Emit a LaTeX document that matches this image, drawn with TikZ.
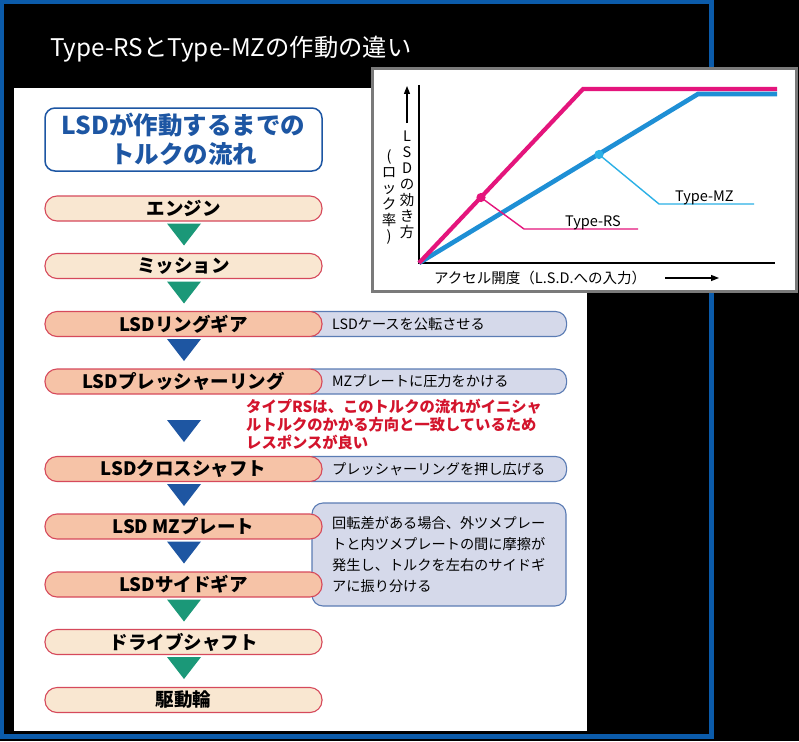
\documentclass[tikz,border=0pt]{standalone}
\usepackage{fontspec}
\setmainfont{Noto Sans CJK JP}
\usetikzlibrary{arrows.meta}
\definecolor{frameblue}{HTML}{0B5BAA}
\definecolor{hdrblue}{HTML}{1D56A3}
\definecolor{beige}{HTML}{F9E7D1}
\definecolor{salmon}{HTML}{F6C3A7}
\definecolor{boxred}{HTML}{D6495B}
\definecolor{lav}{HTML}{D5D9EA}
\definecolor{sideblue}{HTML}{5B7CB4}
\definecolor{trigreen}{HTML}{1B9878}
\definecolor{triblue}{HTML}{1E56A2}
\definecolor{redtext}{HTML}{D3142C}
\definecolor{gpink}{HTML}{E4157C}
\definecolor{gblue}{HTML}{1E8FD5}
\definecolor{glight}{HTML}{2BB0E6}
\definecolor{gborder}{HTML}{7A7A7A}
\tikzset{
  mainbox/.style={draw=boxred, line width=1.1, rounded corners=12, minimum width=277, minimum height=25, inner sep=0,
    font=\fontsize{18.5}{20}\selectfont\bfseries, text=black},
  beigebox/.style={mainbox, fill=beige},
  salmonbox/.style={mainbox, fill=salmon},
  sidebox/.style={draw=sideblue, fill=lav, line width=1.1, rounded corners=11, minimum width=266, minimum height=25, inner sep=0},
  sidetext/.style={font=\fontsize{14.2}{21}\selectfont, text=black, inner sep=0, anchor=west, align=left},
  graphlabel/.style={font=\fontsize{14.5}{16}\selectfont, text=black, inner sep=0},
  vtext/.style={font=\fontsize{14.5}{16}\selectfont, text=black, inner sep=0, align=center, anchor=north},
  axisline/.style={black, line width=1.3},
  pinkline/.style={gpink, line width=4.2},
  blueline/.style={gblue, line width=4.6},
}
\newcommand\downtri[3]{\fill[#1] (#2-17,#3) -- (#2+17,#3) -- (#2,#3+22) -- cycle;}
\begin{document}
\begin{tikzpicture}[x=1pt,y=-1pt]
\useasboundingbox (0,0) rectangle (799,741);
\fill[black] (0,0) rectangle (799,741);
\draw[frameblue, line width=4.5] (2.2,2.2) rectangle (711.5,736.5);
\fill[white] (14,88) rectangle (587,731);
% title
\node[anchor=base west, inner sep=0, text=white, font=\fontsize{24.3}{26}\selectfont] (title) at (50,57) {Type-RSとType-MZの作動の違い};
% graph box
\draw[gborder, line width=3, fill=white] (372,69) rectangle (796,291);
\coordinate (O) at (419,263);
\coordinate (pk) at (583,89);
\coordinate (pkE) at (777,89);
\coordinate (bl) at (698,94);
\coordinate (blE) at (777,94);
\draw[axisline] (419,85) -- (O) -- (775,263);
\draw[blueline] (O) -- (bl) -- (blE);
\draw[pinkline] (O) -- (pk) -- (pkE);
\coordinate (pdot) at (481,197.5);
\coordinate (bdot) at (599,154.5);
\draw[gpink, line width=1.4] (pdot) -- (524,229) -- (638,229);
\draw[glight, line width=1.4] (bdot) -- (659,204) -- (754,204);
\fill[gpink] (pdot) circle (4.6);
\fill[glight] (bdot) circle (4.6);
\node[graphlabel, anchor=base west] (rs) at (565,226) {Type-RS};
\node[graphlabel, anchor=base west] (mz) at (675,201) {Type-MZ};
\node[graphlabel, anchor=west] (xl) at (434,278) {アクセル開度（L.S.D.への入力）};
\draw[-{Triangle[length=8,width=6]}, line width=1.3] (665,278) -- (719,278);
\draw[-{Triangle[length=8,width=6]}, line width=1.3] (407,123) -- (407,86);
\node[vtext] (vl1) at (407,131) {L\\S\\D\\の\\効\\き\\方};
\node[vtext] (vl2) at (389,149) {(\\ロ\\ッ\\ク\\率\\)};
% header
\node[draw=hdrblue, line width=1.5, fill=white, rounded corners=10, minimum width=277, minimum height=63, inner sep=0,
  align=center, text=hdrblue, font=\fontsize{24.5}{29}\selectfont\bfseries] (hdr) at (183.5,139.5) {LSDが作動するまでの\\トルクの流れ};
% side boxes
\node[sidebox, anchor=west] (s1) at (300,324) {};
\node[sidetext] (s1t) at (332,324) {LSDケースを公転させる};
\node[sidebox, anchor=west] (s2) at (300,381.5) {};
\node[sidetext] (s2t) at (332,381.5) {MZプレートに圧力をかける};
\node[sidebox, anchor=west] (s3) at (300,469) {};
\node[sidetext] (s3t) at (332,469) {プレッシャーリングを押し広げる};
\draw[draw=sideblue, fill=lav, line width=1.1, rounded corners=11] (312,503) rectangle (566,606);
\node[sidetext, anchor=north west] (s4t) at (332,516) {回転差がある場合、外ツメプレー\\トと内ツメプレートの間に摩擦が\\発生し、トルクを左右のサイドギ\\アに振り分ける};
% main boxes
\node[beigebox] (b1) at (183.5,208.5) {エンジン};
\node[beigebox] (b2) at (183.5,266) {ミッション};
\node[salmonbox] (b3) at (183.5,324) {LSDリングギア};
\node[salmonbox] (b4) at (183.5,381.5) {LSDプレッシャーリング};
\node[salmonbox] (b5) at (183.5,469) {LSDクロスシャフト};
\node[salmonbox] (b6) at (183.5,526.5) {LSD MZプレート};
\node[salmonbox] (b7) at (183.5,584.5) {LSDサイドギア};
\node[beigebox] (b8) at (183.5,642) {ドライブシャフト};
\node[beigebox] (b9) at (183.5,700) {駆動輪};
% arrows
\downtri{trigreen}{184}{223.5}
\downtri{trigreen}{184}{281.5}
\downtri{triblue}{184}{339}
\downtri{triblue}{184}{420}
\downtri{triblue}{184}{484}
\downtri{triblue}{184}{541.5}
\downtri{trigreen}{184}{599.5}
\downtri{trigreen}{184}{657}
% red note
\node[anchor=north west, inner sep=0, align=left, text=redtext, font=\fontsize{15.3}{18}\selectfont\bfseries] (note) at (246,398.5)
  {タイプRSは、このトルクの流れがイニシャ\\ルトルクのかかる方向と一致しているため\\レスポンスが良い};
\end{tikzpicture}
\end{document}
